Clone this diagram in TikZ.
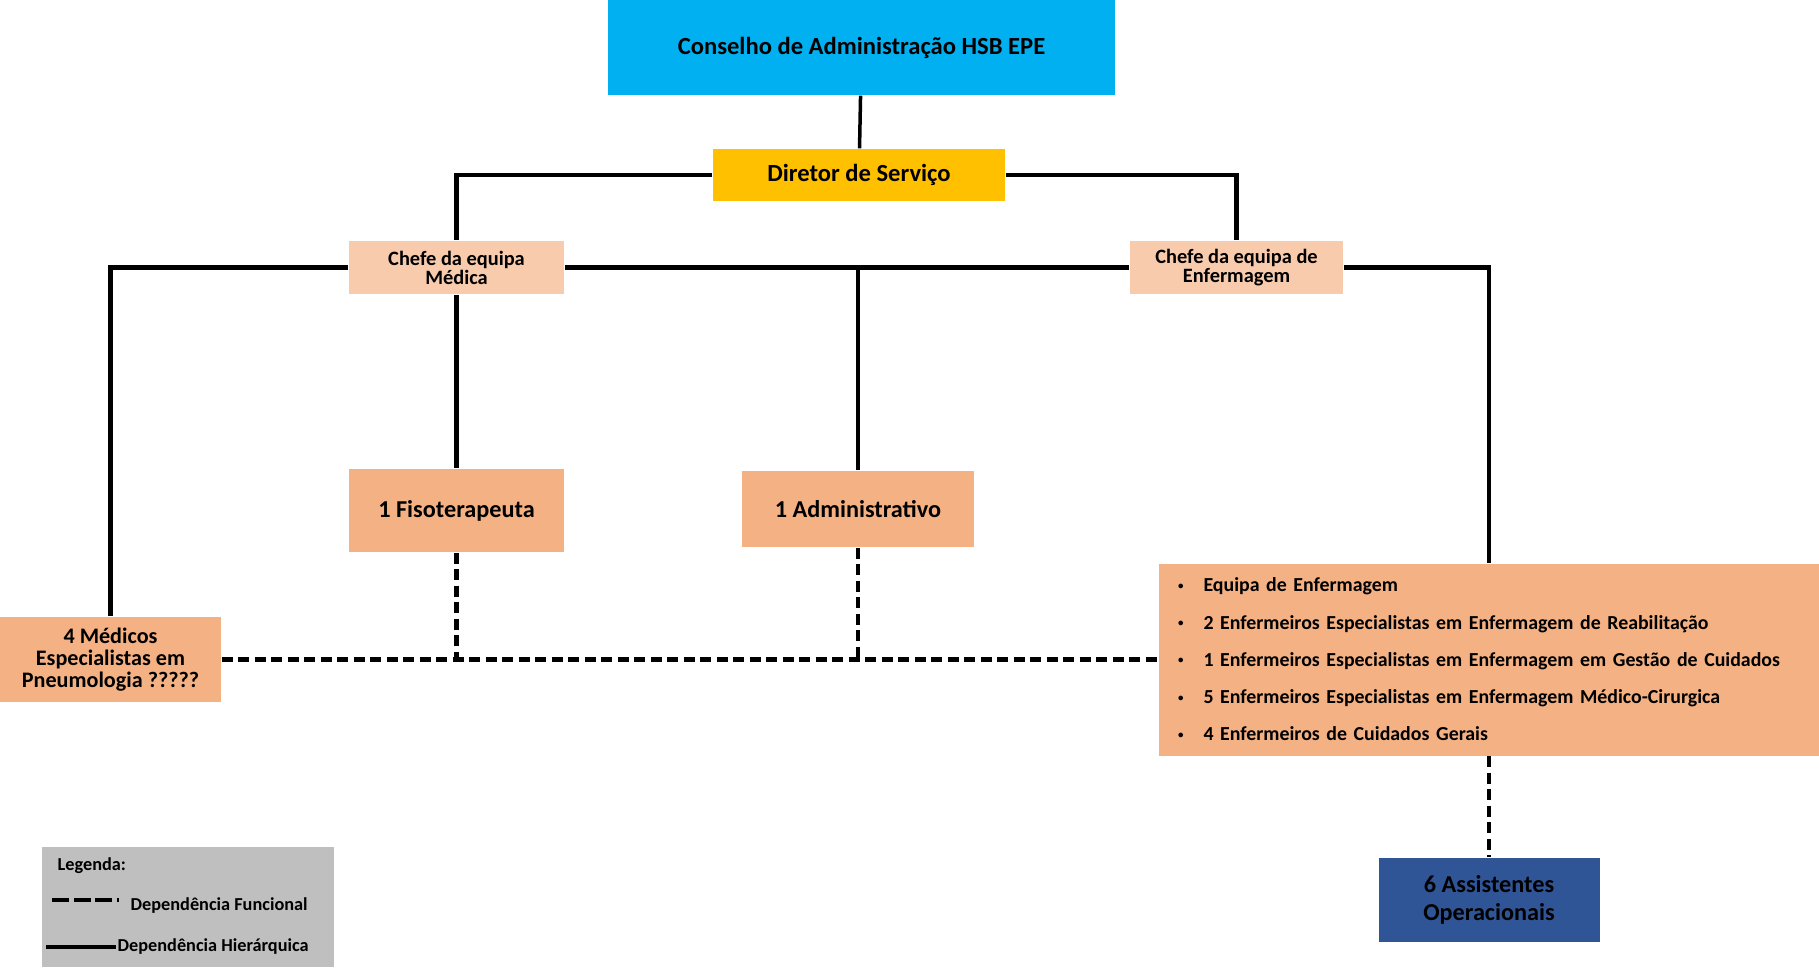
\documentclass[tikz,border=0pt]{standalone}
\usepackage{fontspec}
\setmainfont{Carlito}
\definecolor{cblue}{HTML}{00B0F0}
\definecolor{cgold}{HTML}{FFC000}
\definecolor{cpeach}{HTML}{F8CBAD}
\definecolor{corange}{HTML}{F4B183}
\definecolor{cnavy}{HTML}{2F5597}
\definecolor{cgray}{HTML}{BFBFBF}
\newcommand{\bul}{\makebox[2.55mm][l]{\raisebox{0.25ex}{\scalebox{0.55}{\textbullet}}}}

\begin{document}
\begin{tikzpicture}[
   box/.style={rectangle,inner sep=0pt,align=center},
   hier/.style={line width=0.45mm},
   func/.style={line width=0.43mm,dash pattern=on 1.1mm off 0.55mm}]
   \useasboundingbox (0,0) rectangle (18.19,-9.67);

   \node[box,fill=cblue,minimum width=5.07cm,minimum height=0.95cm,font=\bfseries\fontsize{7}{8}\selectfont] (cons) at (8.615,-0.475) {Conselho de Administração HSB EPE};
   \node[box,fill=cgold,minimum width=2.92cm,minimum height=0.52cm,font=\bfseries\fontsize{7}{8}\selectfont] (dir) at (8.59,-1.75) {Diretor de Serviço};
   \node[box,fill=cpeach,minimum width=2.15cm,minimum height=0.53cm,font=\bfseries\fontsize{5.8}{5.4}\selectfont] (chefeM) at (4.565,-2.675) {Chefe da equipa\\Médica};
   \node[box,fill=cpeach,minimum width=2.13cm,minimum height=0.53cm,font=\bfseries\fontsize{5.8}{5.4}\selectfont] (chefeE) at (12.365,-2.675) {Chefe da equipa de\\Enfermagem};
   \node[box,fill=corange,minimum width=2.15cm,minimum height=0.83cm,font=\bfseries\fontsize{6.9}{8}\selectfont] (fisio) at (4.565,-5.105) {1 Fisoterapeuta};
   \node[box,fill=corange,minimum width=2.32cm,minimum height=0.76cm,font=\bfseries\fontsize{6.9}{8}\selectfont] (adm) at (8.58,-5.09) {1 Administrativo};
   \node[box,fill=corange,minimum width=2.21cm,minimum height=0.85cm,font=\bfseries\fontsize{6.3}{6.3}\selectfont] (med) at (1.105,-6.595) {4 Médicos\\Especialistas em\\Pneumologia ?????};
   \node[box,fill=corange,minimum height=1.92cm,text width=6.22cm,inner xsep=1.9mm,align=left,font=\bfseries\fontsize{5.65}{10.6}\selectfont] (enf) at (14.89,-6.595) {\bul Equipa de Enfermagem\\
      \bul 2 Enfermeiros Especialistas em Enfermagem de Reabilitação\\
      \bul 1 Enfermeiros Especialistas em Enfermagem em Gestão de Cuidados\\
      \bul 5 Enfermeiros Especialistas em Enfermagem Médico-Cirurgica\\
      \bul 4 Enfermeiros de Cuidados Gerais};
   \node[box,fill=cnavy,minimum width=2.21cm,minimum height=0.84cm,font=\bfseries\fontsize{6.9}{7.9}\selectfont] (ass) at (14.89,-9.0) {6 Assistentes\\Operacionais};

   \draw[line width=0.35mm] (cons) -- (dir);
   \draw[hier] (dir.west) -| (chefeM.north);
   \draw[hier] (dir.east) -| (chefeE.north);
   \draw[hier] (chefeM.west) -| (med.north);
   \draw[hier] (chefeM.east) -- (chefeE.west);
   \draw[hier] (chefeE.east) -| (enf.north);
   \draw[hier] (chefeM) -- (fisio);
   \coordinate (admtop) at (adm |- chefeM);
   \draw[hier] (admtop) -- (adm.north);

   \coordinate (fisiobot) at (fisio |- med);
   \coordinate (admbot) at (adm |- med);
   \draw[func] (med.east) -- (enf.west);
   \draw[func] (fisio.south) -- (fisiobot);
   \draw[func] (adm.south) -- (admbot);
   \draw[func] (enf.south) -- (ass.north);

   \node[box,fill=cgray,minimum width=2.92cm,minimum height=1.2cm] (leg) at (1.88,-9.07) {};
   \node[box,anchor=west,font=\bfseries\fontsize{5.2}{6}\selectfont] (legT) at (0.57,-8.66) {Legenda:};
   \coordinate (lf1) at (0.52,-9.0);
   \coordinate (lf2) at (1.19,-9.0);
   \draw[line width=0.4mm,dash pattern=on 1.7mm off 0.45mm] (lf1) -- (lf2);
   \node[box,anchor=west,font=\bfseries\fontsize{5.2}{6}\selectfont] (legF) at (1.30,-9.06) {Dependência Funcional};
   \coordinate (lh1) at (0.46,-9.47);
   \coordinate (lh2) at (1.16,-9.47);
   \draw[hier] (lh1) -- (lh2);
   \node[box,anchor=west,font=\bfseries\fontsize{5.2}{6}\selectfont] (legH) at (1.17,-9.47) {Dependência Hierárquica};
\end{tikzpicture}
\end{document}
